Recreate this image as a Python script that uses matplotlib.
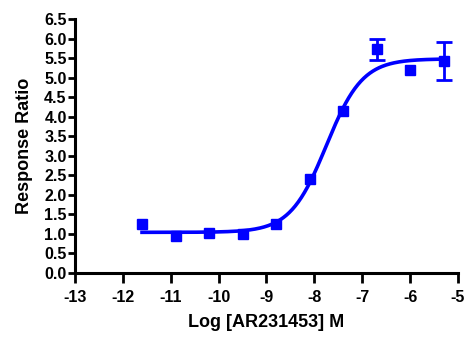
import numpy as np
import matplotlib
matplotlib.use('Agg')
import matplotlib.pyplot as plt

# Measured data
log_conc = [-11.6, -10.9, -10.2, -9.5, -8.8, -8.1, -7.4, -6.7, -6.0, -5.3]
response = [1.25, 0.95, 1.02, 1.00, 1.25, 2.40, 4.15, 5.72, 5.20, 5.43]
err_low = [0, 0, 0, 0, 0, 0, 0, 0.27, 0, 0.50]
err_high = [0, 0, 0, 0, 0, 0, 0, 0.26, 0, 0.48]

# Fitted 4PL parameters (bottom, top, logEC50, hill)
fit_bottom = 1.04
fit_top = 5.48
fit_logec50 = -7.75
fit_hill = 1.15

x_ticks = list(range(-13, -4))
y_ticks = [i * 0.5 for i in range(14)]

plt.rcParams['font.family'] = ['Liberation Sans', 'DejaVu Sans']
plt.rcParams['font.weight'] = 'bold'
plt.rcParams['axes.unicode_minus'] = False

fig = plt.figure(figsize=(4.67, 3.37), dpi=100)
ax = fig.add_axes([0.1606, 0.19, 0.82, 0.7536])

blue = '#0000ff'

# Fitted curve
xs = np.linspace(min(log_conc), max(log_conc), 300)
ys = fit_bottom + (fit_top - fit_bottom) / (1 + 10 ** ((fit_logec50 - xs) * fit_hill))
ax.plot(xs, ys, color=blue, lw=2.6, zorder=2)

# Points
ax.plot(log_conc, response, 's', color=blue, ms=7, zorder=3)

# Error bars only where there is an error
idx = [i for i in range(len(log_conc)) if err_low[i] > 0 or err_high[i] > 0]
ax.errorbar([log_conc[i] for i in idx], [response[i] for i in idx],
            yerr=[[err_low[i] for i in idx], [err_high[i] for i in idx]],
            fmt='none', ecolor=blue, elinewidth=2, capsize=6, capthick=2, zorder=3)

ax.set_xlim(-13, -5)
ax.set_ylim(0, 6.5)
ax.set_xticks(x_ticks)
ax.set_yticks(y_ticks)
ax.set_yticklabels([f'{v:.1f}' for v in y_ticks])

for s in ['top', 'right']:
    ax.spines[s].set_visible(False)
for s in ['left', 'bottom']:
    ax.spines[s].set_linewidth(2.2)
ax.spines['left'].set_zorder(1)

ax.tick_params(axis='x', length=7, width=2, labelsize=11.5, pad=5)
ax.tick_params(axis='y', length=5, width=2, labelsize=11.5, pad=1)

ax.set_xlabel('Log [AR231453] M', fontsize=13, fontweight='bold', labelpad=7)
ax.set_ylabel('Response Ratio', fontsize=13, fontweight='bold', labelpad=8)

fig.savefig('out.png', dpi=100)
